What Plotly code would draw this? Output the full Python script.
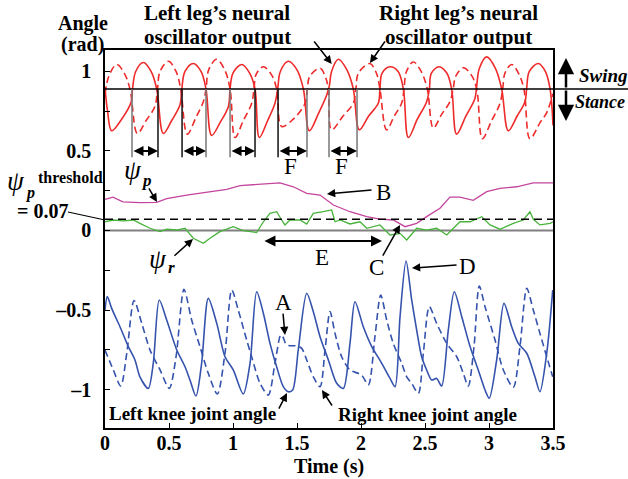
import plotly.graph_objects as go

# ---------------- data ----------------
# Left leg oscillator output (solid red)
osc_left_t = [0, 0.02, 0.052, 0.13, 0.205, 0.215, 0.24, 0.30, 0.36, 0.404, 0.456,
              0.52, 0.586, 0.60, 0.625, 0.69, 0.75, 0.789, 0.833,
              0.90, 0.964, 0.977, 1.00, 1.068, 1.13, 1.172, 1.206,
              1.27, 1.328, 1.349, 1.37, 1.432, 1.50, 1.55, 1.596,
              1.67, 1.732, 1.753, 1.77, 1.823, 1.89, 1.94, 1.987,
              2.06, 2.135, 2.148, 2.165, 2.227, 2.29, 2.331, 2.37,
              2.44, 2.513, 2.534, 2.55, 2.61, 2.67, 2.708, 2.747,
              2.82, 2.89, 2.904, 2.925, 2.982, 3.05, 3.099, 3.151,
              3.22, 3.281, 3.294, 3.315, 3.385, 3.44, 3.477, 3.50]
osc_left_v = [0.90, 0.75, 0.627, 0.70, 0.81, 0.89, 1.00, 1.056, 1.00, 0.89, 0.61,
              0.69, 0.79, 0.89, 1.00, 1.05, 1.00, 0.89, 0.598,
              0.68, 0.78, 0.89, 0.99, 1.044, 0.99, 0.89, 0.585,
              0.69, 0.80, 0.89, 1.00, 1.064, 1.01, 0.89, 0.627,
              0.74, 0.852, 0.91, 1.00, 1.077, 1.01, 0.89, 0.633,
              0.72, 0.80, 0.89, 0.99, 1.03, 1.00, 0.89, 0.585,
              0.70, 0.81, 0.89, 0.99, 1.03, 0.99, 0.89, 0.606,
              0.72, 0.83, 0.91, 1.02, 1.092, 1.02, 0.89, 0.627,
              0.72, 0.81, 0.89, 1.00, 1.05, 1.00, 0.89, 0.66]

# Right leg oscillator output (dashed red)
osc_right_t = [0, 0.03, 0.091, 0.15, 0.195, 0.253,
               0.32, 0.39, 0.41, 0.43, 0.495, 0.555, 0.591, 0.643,
               0.71, 0.768, 0.789, 0.81, 0.872, 0.935, 0.977, 1.016,
               1.08, 1.146, 1.164, 1.18, 1.237, 1.30, 1.341, 1.38,
               1.47, 1.563, 1.58, 1.60, 1.68, 1.72, 1.745, 1.77,
               1.86, 1.94, 1.96, 1.98, 2.07, 2.12, 2.148, 2.20,
               2.26, 2.317, 2.336, 2.355, 2.409, 2.47, 2.518, 2.565,
               2.63, 2.695, 2.72, 2.74, 2.80, 2.86, 2.904, 2.948,
               3.02, 3.086, 3.107, 3.125, 3.177, 3.23, 3.273, 3.32,
               3.40, 3.45, 3.50]
osc_right_v = [0.86, 0.97, 1.044, 0.99, 0.89, 0.61,
               0.69, 0.78, 0.89, 1.00, 1.064, 1.00, 0.89, 0.606,
               0.71, 0.81, 0.89, 1.01, 1.077, 1.01, 0.89, 0.585,
               0.69, 0.80, 0.89, 0.98, 1.03, 0.98, 0.89, 0.654,
               0.70, 0.80, 0.89, 0.97, 1.02, 0.97, 0.89, 0.633,
               0.72, 0.80, 0.89, 0.99, 1.05, 0.99, 0.89, 0.633,
               0.72, 0.80, 0.89, 1.00, 1.06, 1.00, 0.89, 0.644,
               0.73, 0.81, 0.89, 0.97, 1.023, 0.98, 0.89, 0.577,
               0.69, 0.80, 0.89, 0.99, 1.044, 0.99, 0.89, 0.577,
               0.68, 0.74, 0.86]

# psi_p (magenta)
psi_p_t = [0, 0.0625, 0.14, 0.273, 0.404, 0.482, 0.638, 0.795, 0.951, 1.055, 1.263,
           1.367, 1.471, 1.576, 1.68, 1.784, 1.914, 2.045, 2.148, 2.252, 2.344, 2.435,
           2.513, 2.617, 2.695, 2.773, 2.877, 2.982, 3.086, 3.216, 3.346, 3.5]
psi_p_v = [0.196, 0.21, 0.18, 0.175, 0.177, 0.20, 0.223, 0.24, 0.259, 0.282, 0.297,
           0.30, 0.275, 0.234, 0.223, 0.16, 0.118, 0.087, 0.072, 0.066, 0.024, 0.045,
           0.087, 0.14, 0.21, 0.21, 0.19, 0.244, 0.265, 0.275, 0.30, 0.30]

# psi_r (green)
psi_r_t = [0.0, 0.065, 0.143, 0.221, 0.273, 0.352, 0.43, 0.482, 0.56, 0.625, 0.69, 0.768,
           0.82, 0.898, 1.002, 1.08, 1.185, 1.237, 1.289, 1.341, 1.38, 1.406, 1.445, 1.523,
           1.576, 1.627, 1.705, 1.771, 1.797, 1.836, 1.914, 1.992, 2.045, 2.148, 2.227,
           2.305, 2.357, 2.435, 2.513, 2.591, 2.67, 2.773, 2.852, 2.943, 3.008, 3.086,
           3.19, 3.268, 3.32, 3.346, 3.398, 3.477, 3.5]
psi_r_v = [0.055, 0.066, 0.06, 0.066, 0.045, 0.014, -0.007, 0.008, 0.003, 0.014, -0.049, -0.08,
           -0.049, -0.007, 0.024, -0.001, -0.013, 0.055, 0.108, 0.118, 0.066, 0.035, 0.066, 0.066,
           0.04, 0.108, 0.118, 0.129, 0.055, 0.066, 0.041, 0.055, 0.014, 0.035, -0.028,
           -0.018, -0.06, 0.014, 0.003, 0.014, -0.028, 0.055, 0.055, 0.087, 0.035, 0.008,
           0.045, 0.066, 0.118, 0.07, 0.035, 0.045, 0.055]

# Left knee joint angle (solid blue)
knee_left_t = [0, 0.018, 0.052, 0.117, 0.182, 0.234, 0.273, 0.338, 0.377, 0.424,
               0.482, 0.56, 0.625, 0.664, 0.711, 0.755, 0.807,
               0.873, 0.9375, 1.002, 1.08, 1.133, 1.185,
               1.237, 1.289, 1.341, 1.393, 1.432, 1.466, 1.51, 1.576,
               1.627, 1.68, 1.745, 1.81, 1.862, 1.914, 1.953,
               2.018, 2.084, 2.162, 2.227, 2.266, 2.305, 2.352,
               2.396, 2.435, 2.474, 2.513, 2.552, 2.591, 2.63, 2.682, 2.729,
               2.787, 2.852, 2.916, 2.969, 3.002, 3.06, 3.117,
               3.177, 3.229, 3.295, 3.359, 3.398, 3.451, 3.498]
knee_left_v = [-0.50, -0.416, -0.49, -0.605, -0.73, -0.814, -0.92, -0.993, -0.835, -0.437,
               -0.563, -0.75, -0.857, -0.94, -1.041, -0.835, -0.427,
               -0.584, -0.794, -0.877, -1.028, -0.835, -0.385,
               -0.52, -0.71, -0.857, -0.982, -1.014, -1.003, -0.75, -0.395,
               -0.51, -0.668, -0.814, -0.961, -0.993, -0.71, -0.448,
               -0.605, -0.73, -0.835, -0.93, -0.982, -0.542, -0.192,
               -0.437, -0.626, -0.794, -0.877, -0.94, -0.93, -0.978, -0.626, -0.385,
               -0.542, -0.73, -0.877, -1.003, -1.055, -0.814, -0.458,
               -0.605, -0.71, -0.772, -0.92, -1.014, -0.772, -0.374]

# Right knee joint angle (dashed blue)
knee_right_t = [0, 0.065, 0.123, 0.17, 0.227, 0.287, 0.352, 0.43, 0.502, 0.555, 0.617,
                0.677, 0.742, 0.807, 0.877, 0.9375, 0.99, 1.041, 1.107, 1.148, 1.211,
                1.276, 1.328, 1.373, 1.39, 1.42, 1.498, 1.537, 1.576, 1.627, 1.68,
                1.719, 1.758, 1.797, 1.849, 1.914, 2.005, 2.057, 2.109, 2.154,
                2.201, 2.252, 2.318, 2.357, 2.396, 2.448, 2.487, 2.534,
                2.591, 2.67, 2.748, 2.799, 2.838, 2.883, 2.924,
                2.969, 3.047, 3.112, 3.19, 3.242, 3.295,
                3.346, 3.398, 3.451, 3.498]
knee_right_v = [-0.752, -0.877, -0.978, -0.772, -0.44, -0.584, -0.752, -0.877, -0.993, -0.794, -0.37,
                -0.563, -0.73, -0.898, -1.028, -0.772, -0.374, -0.5, -0.689, -0.80, -0.961,
                -1.035, -0.835, -0.657, -0.67, -0.72, -0.726, -0.741, -0.814, -0.92, -0.982,
                -0.752, -0.51, -0.647, -0.794, -0.877, -0.909, -0.972, -0.668, -0.406,
                -0.563, -0.71, -0.835, -0.92, -0.961, -1.024, -0.772, -0.479,
                -0.584, -0.71, -0.794, -0.898, -0.978, -0.73, -0.349,
                -0.479, -0.689, -0.877, -0.986, -0.73, -0.364,
                -0.5, -0.647, -0.794, -0.92]

# swing/stance phase markers
marker_t = [0.211, 0.414, 0.602, 0.789, 0.977, 1.172, 1.352, 1.578, 1.75, 1.969]
marker_col = ["#777", "#111", "#111", "#777", "#777", "#111", "#111", "#777", "#777", "#777"]
crossing_level = 0.89
threshold = 0.07

x_ticks = [0, 0.5, 1, 1.5, 2, 2.5, 3, 3.5]
x_ticklabels = ["0", "0.5", "1", "1.5", "2", "2.5", "3", "3.5"]
y_ticks = [-1, -0.75, -0.5, -0.25, 0, 0.25, 0.5, 0.75, 1]
y_ticklabels = ["\u20131", "", "\u20130.5", "", "0", "", "0.5", "", "1"]

X_RANGE = [0, 3.5]
Y_RANGE = [-1.242, 1.135]

# ---------------- figure ----------------
FONT = "Liberation Serif, Times New Roman, serif"
W, H = 628, 479
ML, MR, MT, MB = 105, 75, 50, 51
PW, PH = W - ML - MR, H - MT - MB


def px(xp):
    return (xp - ML) / PW


def py(yp):
    return (H - MB - yp) / PH


def yv_paper(v):
    return (v - Y_RANGE[0]) / (Y_RANGE[1] - Y_RANGE[0])


RED = "#ee2b2b"
BLUE = "#3553ad"

fig = go.Figure()
fig.add_trace(go.Scatter(x=osc_left_t, y=osc_left_v, mode="lines",
                         line=dict(color=RED, width=1.6, shape="spline", smoothing=1.0)))
fig.add_trace(go.Scatter(x=osc_right_t, y=osc_right_v, mode="lines",
                         line=dict(color=RED, width=1.6, dash="7px,4px", shape="spline", smoothing=1.0)))
fig.add_trace(go.Scatter(x=psi_p_t, y=psi_p_v, mode="lines",
                         line=dict(color="#c4449e", width=1.3)))
fig.add_trace(go.Scatter(x=psi_r_t, y=psi_r_v, mode="lines",
                         line=dict(color="#47b33a", width=1.3)))
fig.add_trace(go.Scatter(x=knee_left_t, y=knee_left_v, mode="lines",
                         line=dict(color=BLUE, width=1.6, shape="spline", smoothing=0.8)))
fig.add_trace(go.Scatter(x=knee_right_t, y=knee_right_v, mode="lines",
                         line=dict(color=BLUE, width=1.6, dash="7px,4px", shape="spline", smoothing=0.8)))

shapes = []
shapes.append(dict(type="line", xref="paper", yref="y", x0=0, x1=1, y0=0, y1=0,
                   line=dict(color="#808080", width=2), layer="below"))
shapes.append(dict(type="line", xref="paper", yref="y", x0=0, x1=1, y0=threshold, y1=threshold,
                   line=dict(color="black", width=1.5, dash="8px,5px")))
shapes.append(dict(type="line", xref="paper", yref="paper", x0=0, x1=px(628),
                   y0=yv_paper(crossing_level), y1=yv_paper(crossing_level),
                   line=dict(color="black", width=1.5)))
for t, c in zip(marker_t, marker_col):
    shapes.append(dict(type="line", xref="x", yref="y", x0=t, x1=t, y0=0.46, y1=crossing_level,
                       line=dict(color=c, width=1.5)))
shapes.append(dict(type="line", xref="paper", yref="paper", x0=px(68), y0=py(212),
                   x1=0, y1=yv_paper(0.066), line=dict(color="black", width=1.2)))

ann = []


def arrow(xt, yt, xa, ya, both=False, width=1.5, size=1.1, head=2):
    ann.append(dict(x=xt, y=yt, ax=xa, ay=ya, xref="x", yref="y", axref="x", ayref="y",
                    text="", showarrow=True, arrowhead=head, arrowsize=size, arrowwidth=width,
                    arrowcolor="black", standoff=0, startstandoff=0,
                    arrowside="end+start" if both else "end",
                    startarrowhead=head, startarrowsize=size))


def text(xp, yp, s, size=19, bold=False, italic=False, xanchor="center"):
    if bold:
        s = "<b>" + s + "</b>"
    if italic:
        s = "<i>" + s + "</i>"
    ann.append(dict(x=px(xp), y=py(yp), xref="paper", yref="paper", text=s, showarrow=False,
                    font=dict(family=FONT, size=size, color="black"),
                    xanchor=xanchor, yanchor="middle"))


for a, b in [(0, 1), (2, 3), (4, 5), (6, 7), (8, 9)]:
    arrow(marker_t[b], 0.5, marker_t[a], 0.5, both=True, width=2, size=1.0)

arrow(1.771, 1.047, 1.625, 1.198)
arrow(2.07, 1.053, 2.195, 1.198)
arrow(0.406, 0.179, 0.336, 0.274)
arrow(0.6875, -0.053, 0.531, -0.167)
arrow(1.734, 0.23, 2.094, 0.255)
arrow(2.305, 0.035, 2.164, -0.167)
arrow(2.398, -0.236, 2.758, -0.217)
arrow(2.164, -0.066, 1.234, -0.066, both=True, width=2.2, size=1.0)
arrow(1.406, -0.657, 1.39, -0.513)
arrow(1.422, -1.022, 1.352, -1.129)
arrow(1.695, -1.003, 1.781, -1.11)

for tip_y, tail_dy in [(58, 31), (121, -32)]:
    ann.append(dict(x=px(566), y=py(tip_y), xref="paper", yref="paper", ax=0, ay=tail_dy,
                    axref="pixel", ayref="pixel", text="", showarrow=True, arrowhead=2,
                    arrowsize=1.3, arrowwidth=2.5, arrowcolor="black", standoff=0))
text(603, 75, "Swing", size=19, bold=True, italic=True)
text(600, 102, "Stance", size=18, bold=True, italic=True)

text(217, 13, "Left leg\u2019s neural", size=21, bold=True)
text(217, 37, "oscillator output", size=21, bold=True)
text(458, 13, "Right leg\u2019s neural", size=21, bold=True)
text(458, 37, "oscillator output", size=21, bold=True)
text(83, 24, "Angle", size=20, bold=True)
text(82, 44, "(rad)", size=20, bold=True)
text(329, 466, "Time (s)", size=20, bold=True)

text(16, 181, "\u03c8", size=27, italic=True)
text(30, 193, "p", size=16, bold=True, italic=True)
text(36, 177, "threshold", size=16, bold=True, xanchor="left")
text(42, 211, "= 0.07", size=20, bold=True)
text(133, 170, "\u03c8", size=27, italic=True)
text(146, 180, "p", size=17, bold=True, italic=True)
text(158, 259, "\u03c8", size=27, italic=True)
text(171, 267, "r", size=17, bold=True, italic=True)

text(290, 166, "F", size=23)
text(341, 166, "F", size=23)
text(383, 192, "B", size=23)
text(376, 267, "C", size=23)
text(467, 266, "D", size=23)
text(322, 257, "E", size=23)
text(283, 302, "A", size=23)

text(192, 413, "Left knee joint angle", size=19, bold=True)
text(427, 414, "Right knee joint angle", size=19, bold=True)

fig.update_layout(
    width=W, height=H,
    margin=dict(l=ML, r=MR, t=MT, b=MB, pad=0),
    plot_bgcolor="white", paper_bgcolor="white",
    showlegend=False,
    shapes=shapes, annotations=ann,
    font=dict(family=FONT, color="black"),
)
fig.update_xaxes(range=X_RANGE, showgrid=False, zeroline=False, showline=True, linecolor="black",
                 linewidth=1.5, mirror=True, ticks="inside", ticklen=5, tickcolor="black",
                 tickvals=x_ticks, ticktext=["<b>" + s + "</b>" for s in x_ticklabels],
                 tickfont=dict(family=FONT, size=20, color="black"), ticklabelstandoff=-4)
fig.update_yaxes(range=Y_RANGE, showgrid=False, zeroline=False, showline=True, linecolor="black",
                 linewidth=1.5, mirror=True, ticks="inside", ticklen=5, tickcolor="black",
                 tickvals=y_ticks, ticktext=["<b>" + s + "</b>" if s else "" for s in y_ticklabels],
                 tickfont=dict(family=FONT, size=20, color="black"), ticklabelstandoff=8)

fig.write_html("out.html")
